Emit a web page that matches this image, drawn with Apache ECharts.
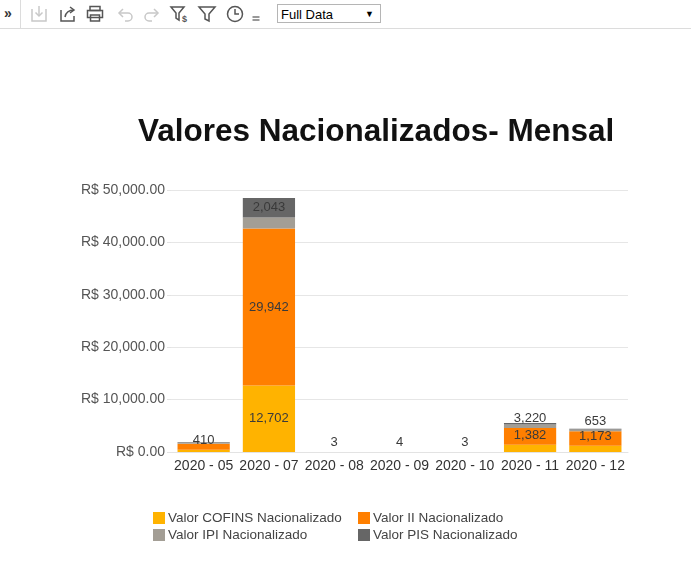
<!DOCTYPE html>
<html>
<head>
<meta charset="utf-8">
<script src="https://cdn.jsdelivr.net/npm/echarts@6/dist/echarts.min.js"></script>
<style>
  html, body { margin: 0; padding: 0; background: #fff; }
  body { width: 691px; height: 586px; position: relative; overflow: hidden; font-family: Arial, "Liberation Sans", sans-serif; }
  #chart { position: absolute; left: 0; top: 0; width: 691px; height: 586px; }
  .toolbar { position: absolute; left: 0; top: 0; width: 691px; height: 28px; border-bottom: 1px solid #dcdcdc; background: #fff; z-index: 2; }
  .toolbar .mais { position: absolute; left: 4px; top: 5px; font-size: 14px; font-weight: bold; color: #333; }
  .toolbar .sep { position: absolute; left: 20px; top: 0; width: 1px; height: 28px; background: #dcdcdc; }
  .toolbar svg { position: absolute; top: 4px; }
  .toolbar .combo { position: absolute; left: 277px; top: 4px; width: 104px; height: 19px; border: 1px solid #b5b5b5; font-size: 13px; line-height: 19px; color: #000; box-sizing: border-box; padding-left: 3px; }
  .toolbar .combo span { position: absolute; right: 6px; top: 0; font-size: 9px; }
</style>
</head>
<body>
<div id="chart"></div>
<div class="toolbar">
  <div class="mais">&raquo;</div>
  <div class="sep"></div>
  <!-- exportar (desabilitado) -->
  <svg style="left:29px" width="20" height="20" viewBox="0 0 20 20" fill="none" stroke="#c8c8c8" stroke-width="1.5">
    <path d="M3 5v12h14V5"/><path d="M10 2v10"/><path d="M6.5 8.5L10 12l3.5-3.5"/>
  </svg>
  <!-- compartilhar -->
  <svg style="left:58px" width="20" height="20" viewBox="0 0 20 20" fill="none" stroke="#555" stroke-width="1.5">
    <path d="M3 6v11h13v-5"/><path d="M7 13c1-5 4-7 9-7"/><path d="M12 3l4 3-4 3"/>
  </svg>
  <!-- imprimir -->
  <svg style="left:85px" width="20" height="20" viewBox="0 0 20 20" fill="none" stroke="#555" stroke-width="1.5">
    <rect x="5" y="2.5" width="10" height="4"/><rect x="2.5" y="6.5" width="15" height="7"/><rect x="5.5" y="11" width="9" height="6"/>
  </svg>
  <!-- desfazer / refazer -->
  <svg style="left:115px" width="20" height="20" viewBox="0 0 20 20" fill="none" stroke="#c8c8c8" stroke-width="1.5">
    <path d="M5 9h8a4 4 0 0 1 0 8h-3"/><path d="M8 5L4 9l4 4"/>
  </svg>
  <svg style="left:142px" width="20" height="20" viewBox="0 0 20 20" fill="none" stroke="#c8c8c8" stroke-width="1.5">
    <path d="M15 9H7a4 4 0 0 0 0 8h3"/><path d="M12 5l4 4-4 4"/>
  </svg>
  <!-- filtro com valor -->
  <svg style="left:169px" width="22" height="20" viewBox="0 0 22 20" fill="none" stroke="#555" stroke-width="1.5">
    <path d="M2 3h13l-5 6v7l-3-2V9z"/>
    <text x="13" y="18" font-size="9" font-weight="bold" fill="#555" stroke="none" font-family="Arial">$</text>
  </svg>
  <!-- filtro -->
  <svg style="left:197px" width="20" height="20" viewBox="0 0 20 20" fill="none" stroke="#555" stroke-width="1.5">
    <path d="M2 3h16l-6 7v7l-4-2v-5z"/>
  </svg>
  <!-- relogio -->
  <svg style="left:225px" width="20" height="20" viewBox="0 0 20 20" fill="none" stroke="#555" stroke-width="1.5">
    <circle cx="10" cy="10" r="7.5"/><path d="M10 5v5h4"/>
  </svg>
  <svg style="left:251px" width="10" height="20" viewBox="0 0 10 20" fill="none" stroke="#555" stroke-width="1.2">
    <path d="M1.5 13h7"/><path d="M1.5 16h7"/>
  </svg>
  <div class="combo">Full Data<span>&#9660;</span></div>
</div>
<script>
// categorias (mes)
const categorias = ['2020 - 05', '2020 - 07', '2020 - 08', '2020 - 09', '2020 - 10', '2020 - 11', '2020 - 12']
// valores de cada imposto por mes
const cofins = [410, 12702, 3, 4, 3, 1382, 1173]
const ii = [1150, 29942, 0, 0, 0, 3220, 2800]
const ipi = [250, 2100, 0, 0, 0, 650, 300]
const pis = [90, 3750, 0, 0, 0, 300, 150]
// rotulos exibidos (null = sem rotulo)
const rotuloCofins = cofins
const rotuloII = [null, 29942, null, null, null, 3220, 653]
const rotuloIPI = [null, null, null, null, null, null, null]
const rotuloPIS = [null, 2043, null, null, null, null, null]
// eixo y
const eixoMin = 0
const eixoMax = 50000
const eixoPasso = 10000

const fonte = 'Arial, "Liberation Sans", sans-serif'
const totais = categorias.map((c, i) => cofins[i] + ii[i] + ipi[i] + pis[i])

function fmtNum(v) {
    return Number(v).toLocaleString('en-US')
}

function serie(nome, valores, rotulos, cor) {
    return {
        name: nome,
        type: 'bar',
        stack: 'total',
        barCategoryGap: '20%',
        itemStyle: { color: cor },
        label: { fontSize: 13, color: '#3a3a3a', fontFamily: fonte },
        data: valores.map((v, i) => {
            const txt = rotulos[i]
            if (txt === null || txt === undefined) return v
            const dentro = totais[i] > 20000
            return {
                value: v,
                label: {
                    show: true,
                    position: dentro ? 'inside' : 'top',
                    distance: 3,
                    formatter: fmtNum(txt)
                }
            }
        })
    }
}

const chart = echarts.init(document.querySelector('#chart'))
const legenda = {
    orient: 'vertical',
    top: 506,
    itemWidth: 12,
    itemHeight: 12,
    itemGap: 3,
    icon: 'rect',
    textStyle: { fontSize: 13.5, color: '#444', fontFamily: fonte, padding: [0, 0, 0, -2] }
}
const option = {
    animation: false,
    textStyle: { fontFamily: fonte },
    title: {
        text: 'Valores Nacionalizados- Mensal',
        left: 133,
        top: 111,
        textStyle: {
            fontFamily: fonte,
            fontSize: 31.5,
            fontWeight: 'bold',
            color: '#111'
        }
    },
    grid: {
        left: 171,
        right: 63,
        top: 190,
        bottom: 134
    },
    legend: [
        Object.assign({}, legenda, { left: 148, data: ['Valor COFINS Nacionalizado', 'Valor IPI Nacionalizado'] }),
        Object.assign({}, legenda, { left: 353, data: ['Valor II Nacionalizado', 'Valor PIS Nacionalizado'] })
    ],
    xAxis: {
        type: 'category',
        data: categorias,
        axisLine: { show: true, lineStyle: { color: '#e3e3e3' } },
        axisTick: { show: false },
        axisLabel: {
            margin: 7,
            fontSize: 14,
            color: '#333',
            fontFamily: fonte,
            interval: 0
        }
    },
    yAxis: {
        type: 'value',
        min: eixoMin,
        max: eixoMax,
        interval: eixoPasso,
        axisLine: { show: false },
        axisTick: { show: true, length: 4, lineStyle: { color: '#e3e3e3' } },
        splitLine: { lineStyle: { color: '#e6e6e6' } },
        axisLabel: {
            margin: 6,
            fontSize: 14,
            color: '#555',
            fontFamily: fonte,
            formatter: v => 'R$ ' + v.toLocaleString('en-US', { minimumFractionDigits: 2, maximumFractionDigits: 2 })
        }
    },
    series: [
        serie('Valor COFINS Nacionalizado', cofins, rotuloCofins, '#FFB300'),
        serie('Valor II Nacionalizado', ii, rotuloII, '#FF7F00'),
        serie('Valor IPI Nacionalizado', ipi, rotuloIPI, '#A39E95'),
        serie('Valor PIS Nacionalizado', pis, rotuloPIS, '#666666')
    ]
}
chart.setOption(option)
window.addEventListener('resize', function () {
    chart.resize()
})
</script>
</body>
</html>
